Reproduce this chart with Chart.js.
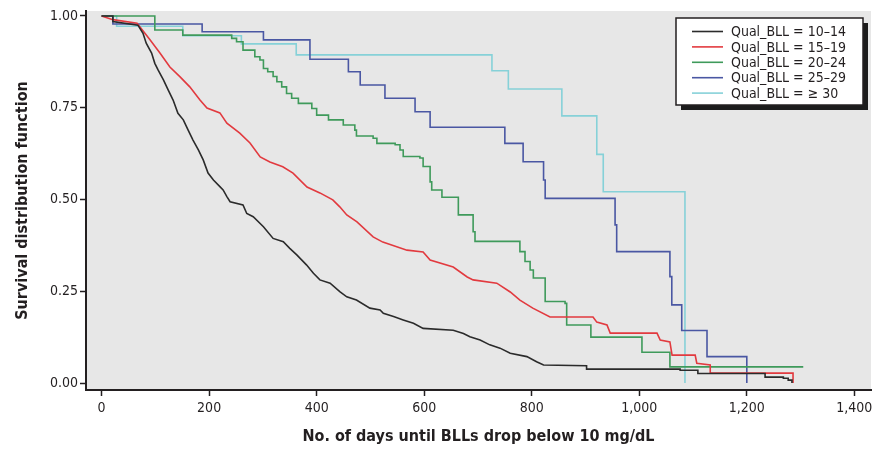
<!DOCTYPE html>
<html>
<head>
<meta charset="utf-8">
<script src="https://cdn.jsdelivr.net/npm/chart.js@4.4.1/dist/chart.umd.min.js"></script>
<style>
  html, body { margin: 0; padding: 0; background: #ffffff; }
  #wrap { width: 878px; height: 451px; }
</style>
</head>
<body>
<div id="wrap"><canvas id="c" width="878" height="451"></canvas></div>
<script>
// ---- data ----
const xTicks = [0, 200, 400, 600, 800, 1000, 1200, 1400];
const yTicks = [0, 0.25, 0.5, 0.75, 1.0];
const seriesLabels = ['Qual_BLL = 10–14', 'Qual_BLL = 15–19', 'Qual_BLL = 20–24', 'Qual_BLL = 25–29', 'Qual_BLL = ≥ 30'];
const xTitle = 'No. of days until BLLs drop below 10 mg/dL';
const yTitle = 'Survival distribution function';

// 10–14 group: traced path (dense small steps)
const days1014 = [0, 21, 21, 67.5, 77, 83, 93, 99, 105, 115, 124, 133, 142, 152, 161, 170, 180, 189, 198, 208, 220, 226, 233, 239, 263, 270, 282, 301, 319, 338, 350, 363, 381, 394, 406, 425, 443, 456, 474, 499, 518, 524, 543, 561, 580, 598, 654, 673, 685, 704, 722, 741, 760, 791, 809, 822, 902, 902, 1076, 1076, 1109, 1109, 1234, 1234, 1268, 1268, 1277, 1277, 1284, 1284];
const surv1014 = [1, 1, 0.985, 0.975, 0.953, 0.926, 0.899, 0.871, 0.853, 0.826, 0.798, 0.771, 0.735, 0.717, 0.689, 0.662, 0.635, 0.608, 0.572, 0.553, 0.535, 0.526, 0.508, 0.494, 0.485, 0.462, 0.453, 0.426, 0.394, 0.385, 0.367, 0.349, 0.322, 0.299, 0.281, 0.272, 0.249, 0.235, 0.226, 0.204, 0.199, 0.190, 0.181, 0.172, 0.163, 0.149, 0.144, 0.135, 0.126, 0.117, 0.104, 0.095, 0.081, 0.072, 0.058, 0.049, 0.047, 0.038, 0.038, 0.035, 0.035, 0.026, 0.026, 0.016, 0.016, 0.013, 0.013, 0.008, 0.008, 0];

// 15–19 group: traced path
const days1519 = [0, 21, 66, 90, 108.5, 127, 146, 164, 183, 196, 220, 233, 257, 276, 295, 313, 337, 356, 382, 406, 430, 443, 456, 475, 505, 523, 568, 598, 611, 654, 680, 691, 735, 760, 778, 802, 834, 914, 921, 940, 946, 1033, 1039, 1057, 1061, 1104, 1107, 1132, 1132, 1286, 1286];
const surv1519 = [1, 0.99, 0.98, 0.935, 0.899, 0.861, 0.834, 0.807, 0.771, 0.749, 0.736, 0.708, 0.681, 0.654, 0.616, 0.602, 0.589, 0.572, 0.534, 0.518, 0.499, 0.480, 0.458, 0.439, 0.398, 0.384, 0.362, 0.357, 0.335, 0.316, 0.289, 0.281, 0.272, 0.248, 0.226, 0.204, 0.180, 0.180, 0.166, 0.158, 0.136, 0.136, 0.117, 0.112, 0.076, 0.076, 0.054, 0.049, 0.027, 0.027, 0];

// step-function groups: (time of drop, survival after drop)
const days2024 = [0, 99, 151, 242, 251, 263, 285, 294.5, 301, 309, 319, 326, 335, 344, 353.5, 366, 391, 400, 422, 449.5, 471, 474, 505, 512, 546, 555, 561, 592, 598, 611, 614, 633, 663.5, 691, 694.5, 778, 787.5, 797, 803, 825, 862, 865, 910, 1005, 1057, 1305];
const surv2024 = [1, 0.962, 0.948, 0.939, 0.930, 0.907, 0.889, 0.880, 0.857, 0.848, 0.835, 0.821, 0.807, 0.789, 0.776, 0.762, 0.748, 0.730, 0.717, 0.703, 0.689, 0.673, 0.667, 0.653, 0.649, 0.635, 0.617, 0.613, 0.590, 0.548, 0.526, 0.506, 0.458, 0.412, 0.386, 0.358, 0.331, 0.308, 0.286, 0.222, 0.217, 0.158, 0.125, 0.084, 0.044, 0.044];

const days2529 = [0, 21, 187, 301, 387.5, 459, 481, 527, 583, 611, 750, 784, 822, 825, 955, 958, 1057, 1060.5, 1079, 1126, 1200];
const surv2529 = [1, 0.978, 0.957, 0.935, 0.882, 0.848, 0.812, 0.776, 0.739, 0.697, 0.653, 0.603, 0.553, 0.503, 0.431, 0.358, 0.290, 0.213, 0.143, 0.072, 0];

const days30 = [0, 28, 151, 260, 362, 726, 756.5, 856, 921, 933, 1085];
const surv30 = [1, 0.972, 0.946, 0.924, 0.894, 0.851, 0.801, 0.728, 0.623, 0.521, 0];

// ---- styling ----
const colors = ['#2b2b2b', '#e23a3f', '#3f9a5b', '#4a57a3', '#86d1d8'];
const steppedStyle = [false, false, true, true, true];
const FONT = "'Liberation Sans Narrow', 'Arial Narrow', 'DejaVu Sans Condensed', sans-serif";
const INK = '#231f20';

const series = [
  [days1014, surv1014], [days1519, surv1519], [days2024, surv2024], [days2529, surv2529], [days30, surv30]
];

const datasets = series.map(([d, s], i) => ({
  label: seriesLabels[i],
  data: d.map((x, k) => ({ x: x, y: s[k] })),
  borderColor: colors[i],
  backgroundColor: colors[i],
  borderWidth: 1.6,
  pointRadius: 0,
  stepped: steppedStyle[i],
  fill: false,
  tension: 0
}));

const plotBg = {
  id: 'plotBg',
  beforeDraw(chart) {
    const { ctx, chartArea: a } = chart;
    ctx.save();
    ctx.fillStyle = '#e7e7e7';
    ctx.fillRect(a.left, a.top, a.right - a.left, a.bottom - a.top);
    ctx.restore();
  }
};

const boxLegend = {
  id: 'boxLegend',
  afterDraw(chart) {
    const ctx = chart.ctx;
    const bx = 676, by = 18, bw = 187, bh = 87;
    ctx.save();
    ctx.fillStyle = '#1c1c1c';
    ctx.fillRect(bx + 5, by + 5, bw, bh);
    ctx.fillStyle = '#ffffff';
    ctx.fillRect(bx, by, bw, bh);
    ctx.strokeStyle = INK;
    ctx.lineWidth = 1.5;
    ctx.strokeRect(bx, by, bw, bh);
    ctx.font = '14px ' + FONT;
    ctx.textBaseline = 'middle';
    ctx.textAlign = 'left';
    chart.data.datasets.forEach((ds, i) => {
      const y = 31.5 + i * 15.4;
      ctx.strokeStyle = ds.borderColor;
      ctx.lineWidth = 1.6;
      ctx.beginPath();
      ctx.moveTo(692, y);
      ctx.lineTo(723, y);
      ctx.stroke();
      ctx.fillStyle = INK;
      ctx.fillText(ds.label, 731, y + 1);
    });
    ctx.restore();
  }
};

const fmt = v => String(v).replace(/\B(?=(\d{3})+(?!\d))/g, ',');

new Chart(document.getElementById('c'), {
  type: 'line',
  data: { datasets: datasets },
  plugins: [plotBg, boxLegend],
  options: {
    responsive: false,
    animation: false,
    devicePixelRatio: 1,
    layout: { padding: { top: 11, right: 7, left: 0, bottom: 0 } },
    plugins: { legend: { display: false }, tooltip: { enabled: false } },
    scales: {
      x: {
        type: 'linear',
        min: -29,
        max: 1431,
        afterBuildTicks: s => { s.ticks = xTicks.map(v => ({ value: v })); },
        afterFit: s => { s.height = 61; },
        ticks: { callback: v => fmt(v), font: { family: FONT, size: 14 }, color: INK, padding: 4, maxRotation: 0, autoSkip: false },
        grid: { display: true, drawOnChartArea: false, drawTicks: true, tickLength: 6, tickWidth: 1.5, tickColor: INK },
        border: { display: true, color: INK, width: 2 },
        title: { display: true, text: xTitle, color: INK, font: { family: FONT, size: 16, weight: 'bold' }, padding: { top: 0, bottom: 4.4 } }
      },
      y: {
        type: 'linear',
        min: -0.019,
        max: 1.0136,
        afterBuildTicks: s => { s.ticks = yTicks.map(v => ({ value: v })); },
        afterFit: s => { s.width = 86; },
        ticks: { callback: v => Number(v).toFixed(2), font: { family: FONT, size: 14 }, color: INK, padding: 2 },
        grid: { display: true, drawOnChartArea: false, drawTicks: true, tickLength: 6, tickWidth: 1.5, tickColor: INK },
        border: { display: true, color: INK, width: 2 },
        title: { display: true, text: yTitle, color: INK, font: { family: FONT, size: 16, weight: 'bold' }, padding: { top: 13.7, bottom: 0 } }
      }
    }
  }
});
</script>
</body>
</html>
